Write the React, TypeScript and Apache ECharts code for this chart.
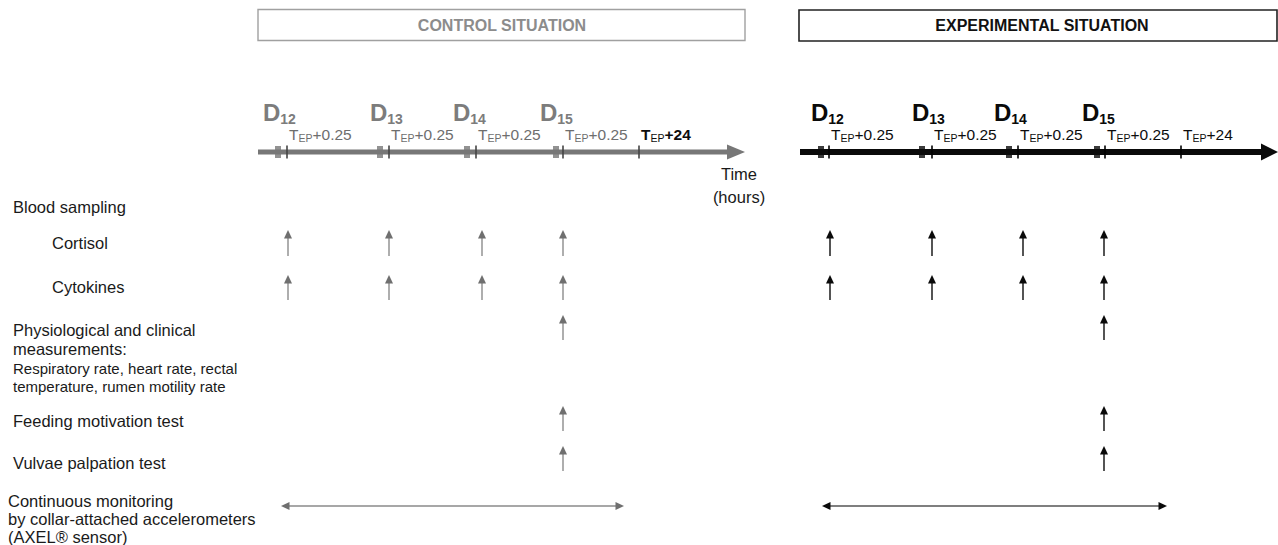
import React, { useEffect, useRef } from "react";
import * as echarts from "echarts";

const W = 1278;
const H = 545;
const FONT = '"Liberation Sans", Arial, Helvetica, sans-serif';

// ---- panels (0 = control, 1 = experimental)
const panelTitles = ["CONTROL SITUATION", "EXPERIMENTAL SITUATION"];
const panelBoxLeft = [258, 799];
const panelBoxRight = [745, 1277];
const panelTitleX = [502, 1042];
const panelBoxTop = [9.5, 10];
const panelBoxBottom = [40.5, 41];
const panelTitleY = [25, 25.5];

// ---- time axis
const timelineStart = [258, 800];
const timelineEnd = [745, 1278];
const timelineY = 152;

const dayNames = ["12", "13", "14", "15"];
const controlDayX = [278, 380, 467, 556];
const expDayX = [821, 922, 1009, 1097];
const controlDayLabelX = [263, 370, 453, 540];
const expDayLabelX = [811, 912, 994, 1082];
const dayLabelY = 115.5;

const controlSampleX = [287, 389, 476, 563];
const expSampleX = [829, 932, 1018, 1105];
const controlLateX = 639;
const expLateX = 1181;
const sampleOffsetLabel = "+0.25";
const lateOffsetLabel = "+24";
const sampleLabelY = 136;

const timeAxisTitle = "Time\n(hours)";
const timeAxisTitleX = 739;
const timeAxisTitleY = 185;

// ---- left-hand row labels
const rowLabelTexts = [
  "Blood sampling",
  "Cortisol",
  "Cytokines",
  "Physiological and clinical",
  "measurements:",
  "Respiratory rate, heart rate, rectal",
  "temperature, rumen motility rate",
  "Feeding motivation test",
  "Vulvae palpation test",
  "Continuous monitoring",
  "by collar-attached accelerometers",
  "(AXEL® sensor)",
];
const rowLabelX = [13, 52, 52, 13, 13, 13, 13, 13, 13, 8, 8, 8];
const rowLabelY = [207, 243, 287, 330, 349, 368, 386, 421, 463, 501, 519, 537];
const rowLabelSize = [16.5, 16.5, 16.5, 16.5, 16.5, 15, 15, 16.5, 16.5, 16.5, 16.5, 16.5];

// ---- sampling arrows: rows and the days sampled in each
const arrowRowTop = [230, 275, 315, 406, 446];
const arrowRowBottom = [256, 300, 340, 431, 471];
const arrowRowDays = [[0, 1, 2, 3], [0, 1, 2, 3], [3], [3], [3]];
const controlArrowX = [288, 389, 482, 563];
const expArrowX = [830, 932, 1023, 1104];

// ---- continuous monitoring double arrows
const monitorY = 506;
const monitorStart = [281, 822];
const monitorEnd = [624, 1167];

// ---- colours
const mainColor = ["#777777", "#0a0a0a"];
const labelColor = ["#7c7c7c", "#0a0a0a"];
const titleColor = ["#8c8c8c", "#111111"];
const boxColor = ["#a0a0a0", "#222222"];
const arrowHeadColor = ["#6f6f6f", "#0a0a0a"];
const arrowStemColor = ["#9a9a9a", "#2a2a2a"];
const textColor = "#1a1a1a";

function textSeries(
  texts: string[],
  xs: number[],
  ys: number[],
  styleFor: (i: number) => any,
  align: string = "left"
) {
  return {
    type: "custom",
    coordinateSystem: "cartesian2d",
    silent: true,
    data: xs.map((x, i) => [x, ys[i]]),
    renderItem: (params: any, api: any) => {
      const p = api.coord([api.value(0), api.value(1)]);
      const i = params.dataIndex;
      return {
        type: "text",
        x: p[0],
        y: p[1],
        style: {
          text: texts[i],
          align,
          verticalAlign: "middle",
          textAlign: align,
          textVerticalAlign: "middle",
          fontFamily: FONT,
          ...styleFor(i),
        },
      };
    },
  };
}

function buildOption() {
  const series: any[] = [];

  // title boxes
  series.push({
    type: "custom",
    coordinateSystem: "cartesian2d",
    silent: true,
    data: [0, 1].map((p) => [panelBoxLeft[p], panelBoxTop[p], panelBoxRight[p], panelBoxBottom[p], p]),
    renderItem: (_params: any, api: any) => {
      const a = api.coord([api.value(0), api.value(1)]);
      const b = api.coord([api.value(2), api.value(3)]);
      const p = api.value(4);
      return {
        type: "rect",
        shape: { x: a[0], y: a[1], width: b[0] - a[0], height: b[1] - a[1] },
        style: { fill: "#ffffff", stroke: boxColor[p], lineWidth: p ? 1.6 : 1.4 },
      };
    },
  });
  series.push(
    textSeries(panelTitles, panelTitleX, panelTitleY, (i) => ({
      fontSize: 16,
      fontWeight: "bold",
      fill: titleColor[i],
    }), "center")
  );

  // timelines with arrow heads
  series.push({
    type: "custom",
    coordinateSystem: "cartesian2d",
    silent: true,
    data: [0, 1].map((p) => [timelineStart[p], timelineEnd[p], timelineY, p]),
    renderItem: (_params: any, api: any) => {
      const p = api.value(3);
      const a = api.coord([api.value(0), api.value(2)]);
      const b = api.coord([api.value(1), api.value(2)]);
      const headLen = p ? 17 : 18;
      const half = p ? 8.5 : 7.5;
      const lw = p ? 6 : 5;
      return {
        type: "group",
        children: [
          {
            type: "line",
            shape: { x1: a[0], y1: a[1], x2: b[0] - headLen + 2, y2: b[1] },
            style: { stroke: mainColor[p], lineWidth: lw },
          },
          {
            type: "polygon",
            shape: { points: [[b[0], b[1]], [b[0] - headLen, b[1] - half], [b[0] - headLen, b[1] + half]] },
            style: { fill: mainColor[p] },
          },
        ],
      };
    },
  });

  // day blocks
  series.push({
    type: "scatter",
    silent: true,
    symbol: "rect",
    symbolSize: [6, 12],
    itemStyle: { color: (params: any) => mainColor[params.dataIndex < 4 ? 0 : 1] },
    data: [...controlDayX, ...expDayX].map((x) => [x, timelineY]),
    z: 3,
  });

  // T_EP ticks
  const tickX = [...controlSampleX, controlLateX, ...expSampleX, expLateX];
  series.push({
    type: "custom",
    coordinateSystem: "cartesian2d",
    silent: true,
    z: 4,
    data: tickX.map((x, i) => [x, timelineY, i < 5 ? 0 : 1]),
    renderItem: (_params: any, api: any) => {
      const c = api.coord([api.value(0), api.value(1)]);
      const p = api.value(2);
      return {
        type: "line",
        shape: { x1: c[0], y1: c[1] - 6.5, x2: c[0], y2: c[1] + 6.5 },
        style: { stroke: p ? "#000" : "#444", lineWidth: 1.6 },
      };
    },
  });

  // day labels D12..D15
  const dayTexts = [...dayNames, ...dayNames].map((d) => `{d|D}{s|${d}}`);
  series.push(
    textSeries(dayTexts, [...controlDayLabelX, ...expDayLabelX], dayTexts.map(() => dayLabelY), (i) => {
      const c = labelColor[i < 4 ? 0 : 1];
      return {
        rich: {
          d: { fontSize: 24, fontWeight: "bold", fill: c, lineHeight: 30, verticalAlign: "top", fontFamily: FONT },
          s: { fontSize: 14, fontWeight: "bold", fill: c, lineHeight: 30, verticalAlign: "top", padding: [11.5, 0, 0, 0], fontFamily: FONT },
        },
      };
    })
  );

  // T_EP labels
  const tLabelX = [...controlSampleX, controlLateX, ...expSampleX, expLateX].map((x) => x + 2);
  const tTexts = tLabelX.map((_x, i) => `{t|T}{e|EP}{t|${i === 4 || i === 9 ? lateOffsetLabel : sampleOffsetLabel}}`);
  series.push(
    textSeries(tTexts, tLabelX, tTexts.map(() => sampleLabelY), (i) => {
      const c = i < 4 ? "#6e6e6e" : "#0d0d0d";
      const bold = i === 4;
      return {
        rich: {
          t: { fontSize: 15.5, fill: c, lineHeight: 20, verticalAlign: "top", fontFamily: FONT, fontWeight: bold ? "bold" : "normal" },
          e: { fontSize: 10.5, fill: c, lineHeight: 20, verticalAlign: "top", padding: [6.5, 0, 0, 0], fontFamily: FONT },
        },
      };
    })
  );

  // Time (hours)
  series.push(
    textSeries([timeAxisTitle], [timeAxisTitleX], [timeAxisTitleY], () => ({
      fontSize: 16.5,
      lineHeight: 23,
      fill: textColor,
    }), "center")
  );

  // row labels
  series.push(
    textSeries(rowLabelTexts, rowLabelX, rowLabelY, (i) => ({
      fontSize: rowLabelSize[i],
      fill: textColor,
    }))
  );

  // sampling arrows
  const arrowData: number[][] = [];
  arrowRowDays.forEach((days, r) => {
    days.forEach((d) => {
      arrowData.push([controlArrowX[d], arrowRowTop[r], arrowRowBottom[r], 0]);
      arrowData.push([expArrowX[d], arrowRowTop[r], arrowRowBottom[r], 1]);
    });
  });
  series.push({
    type: "custom",
    coordinateSystem: "cartesian2d",
    silent: true,
    data: arrowData,
    renderItem: (_params: any, api: any) => {
      const p = api.value(3);
      const top = api.coord([api.value(0), api.value(1)]);
      const bot = api.coord([api.value(0), api.value(2)]);
      return {
        type: "group",
        children: [
          {
            type: "line",
            shape: { x1: bot[0], y1: bot[1], x2: top[0], y2: top[1] + 6 },
            style: { stroke: arrowStemColor[p], lineWidth: 1.6 },
          },
          {
            type: "polygon",
            shape: { points: [[top[0], top[1]], [top[0] - 4, top[1] + 8.5], [top[0] + 4, top[1] + 8.5]] },
            style: { fill: arrowHeadColor[p] },
          },
        ],
      };
    },
  });

  // continuous monitoring double arrows
  series.push({
    type: "custom",
    coordinateSystem: "cartesian2d",
    silent: true,
    data: [0, 1].map((p) => [monitorStart[p], monitorEnd[p], monitorY, p]),
    renderItem: (_params: any, api: any) => {
      const p = api.value(3);
      const a = api.coord([api.value(0), api.value(2)]);
      const b = api.coord([api.value(1), api.value(2)]);
      const hl = 8.5;
      const hw = 4;
      return {
        type: "group",
        children: [
          {
            type: "line",
            shape: { x1: a[0] + 5, y1: a[1], x2: b[0] - 5, y2: b[1] },
            style: { stroke: p ? "#555555" : "#8a8a8a", lineWidth: 1.6 },
          },
          {
            type: "polygon",
            shape: { points: [[a[0], a[1]], [a[0] + hl, a[1] - hw], [a[0] + hl, a[1] + hw]] },
            style: { fill: arrowHeadColor[p] },
          },
          {
            type: "polygon",
            shape: { points: [[b[0], b[1]], [b[0] - hl, b[1] - hw], [b[0] - hl, b[1] + hw]] },
            style: { fill: arrowHeadColor[p] },
          },
        ],
      };
    },
  });

  return {
    animation: false,
    backgroundColor: "#ffffff",
    grid: { left: 0, right: 0, top: 0, bottom: 0, containLabel: false },
    xAxis: { type: "value", min: 0, max: W, show: false },
    yAxis: { type: "value", min: 0, max: H, inverse: true, show: false },
    series,
  };
}

export default function App() {
  const ref = useRef<HTMLDivElement>(null);
  useEffect(() => {
    if (!ref.current) return;
    const chart = echarts.init(ref.current, null, { renderer: "svg" });
    chart.setOption(buildOption() as any);
    return () => chart.dispose();
  }, []);
  return (
    <div
      ref={ref}
      style={{ position: "fixed", left: 0, top: 0, width: W, height: H, background: "#ffffff" }}
    />
  );
}
